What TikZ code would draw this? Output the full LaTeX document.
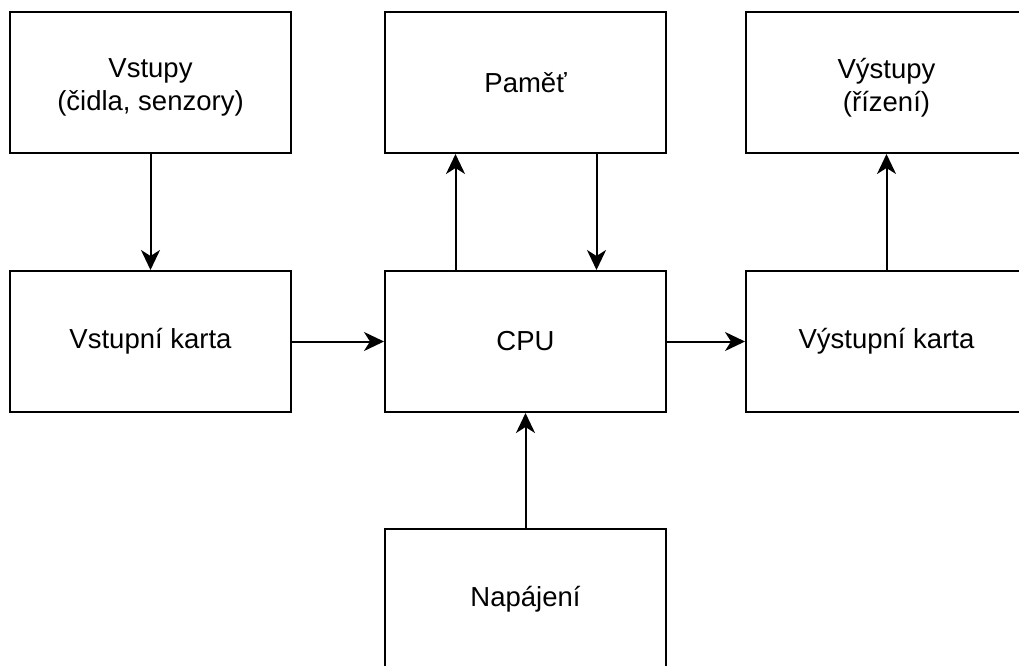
\documentclass[tikz,border=0pt]{standalone}
\usepackage{fontspec}
\setmainfont{Liberation Sans}
\usetikzlibrary{arrows.meta}
\tikzset{
  block/.style={draw=black, line width=2pt, fill=white, minimum width=281pt,
    minimum height=141pt, inner sep=0pt, align=center,
    font=\fontsize{27.5pt}{33pt}\selectfont},
  twoline/.style={inner sep=0pt, align=center,
    font=\fontsize{27.5pt}{33pt}\selectfont},
  arr/.style={line width=2pt, -{Stealth[length=20pt,width=19pt,inset=6pt]}}
}
\begin{document}
\begin{tikzpicture}[x=1pt,y=-1pt]
  \useasboundingbox (0,0) rectangle (1019,665);
  \clip (0,0) rectangle (1019,665);
  \fill[white] (0,0) rectangle (1019,665);

  % top row
  \node[block] (vstupy) at (150.5,82.5) {};
  \node[twoline] (vstupytext) at ([yshift=-5pt]vstupy.center) {Vstupy\\(čidla, senzory)};
  \node[block] (pamet)  at (525.5,82.5) {Paměť};
  \node[block] (vystupy) at (886.5,82.5) {};
  \node[twoline] (vystupytext) at ([yshift=-5pt]vystupy.center) {Výstupy\\(řízení)};

  % middle row
  \node[block] (vkarta) at (150.5,341.5) {Vstupní karta};
  \node[block] (cpu)    at (525.5,341.5) {CPU};
  \node[block] (okarta) at (886.5,341.5) {Výstupní karta};

  % power supply
  \node[block] (napajeni) at (525.5,599.5) {Napájení};

  % connections
  \draw[arr] (vstupy.south) -- (vkarta.north);
  \draw[arr] (vkarta.east) -- (cpu.west);
  \draw[arr] (cpu.east) -- (okarta.west);
  \draw[arr] (okarta.north) -- (vystupy.south);
  \draw[arr] ([xshift=-70pt]cpu.north) -- ([xshift=-70pt]pamet.south);
  \draw[arr] ([xshift=71pt]pamet.south) -- ([xshift=71pt]cpu.north);
  \draw[arr] (napajeni.north) -- (cpu.south);
\end{tikzpicture}
\end{document}
